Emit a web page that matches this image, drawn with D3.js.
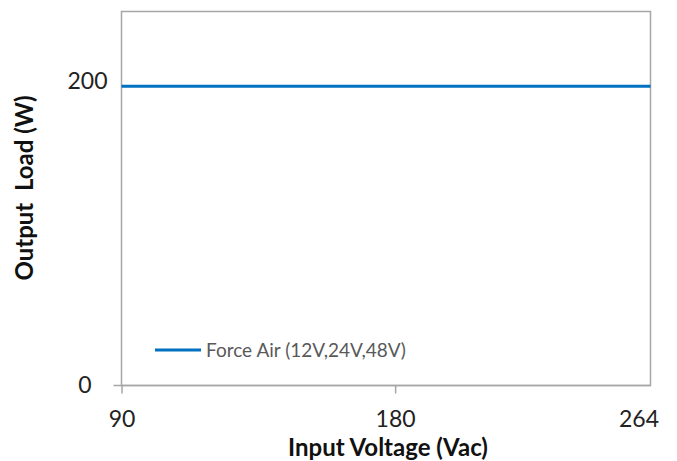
<!DOCTYPE html>
<html><head><meta charset="utf-8">
<script src="https://cdn.jsdelivr.net/npm/d3@7"></script>
<style>body{margin:0;background:#fff}svg{display:block}</style>
</head><body>
<svg id="c" width="677" height="461"></svg>
<script>
const xTicks = [90, 180, 264];
const yTicks = [0, 200];
const seriesX = [90, 264];
const seriesY = [200, 200];
const seriesName = "Force Air (12V,24V,48V)";
const xTitle = "Input Voltage (Vac)";
const yTitle = "Output  Load (W)";

const svg = d3.select("#c");
const L = 121.5, R = 650.5, T = 11.5, B = 385.5;
const x = d3.scaleLinear().domain([90, 264]).range([L, R]);
const y = d3.scaleLinear().domain([0, 250]).range([B, T]);
const font = "Lato, 'Open Sans', sans-serif";

// plot border
svg.append("rect").attr("x", L).attr("y", T).attr("width", R - L).attr("height", B - T)
  .attr("fill", "none").attr("stroke", "#a6a6a6").attr("stroke-width", 1.5);

// x axis
const gx = svg.append("g").attr("transform", `translate(0,${B})`)
  .call(d3.axisBottom(x).tickValues(xTicks).tickSize(8).tickFormat(d3.format("d")));
gx.select(".domain").attr("stroke", "#a6a6a6").attr("stroke-width", 1.5)
  .attr("d", `M${L - 8},0H${R}`);
gx.selectAll(".tick line").attr("stroke", "#a6a6a6").attr("stroke-width", 1.5);
gx.selectAll(".tick").filter(d => d === 264).select("line").remove();
gx.selectAll(".tick").filter(d => d === 264).select("text").attr("dx", -12);
gx.selectAll(".tick text").attr("font-family", font).attr("font-size", 23)
  .attr("fill", "#222").attr("dy", "0.35em").attr("y", 33);

// y axis
const gy = svg.append("g").attr("transform", `translate(${L},0)`)
  .call(d3.axisLeft(y).tickValues(yTicks).tickSize(0).tickPadding(14));
gy.select(".domain").remove();
gy.selectAll(".tick text").attr("font-family", font).attr("font-size", 23).attr("fill", "#222");
gy.selectAll(".tick").filter(d => d === 200).select("text").attr("y", -5);
gy.selectAll(".tick").filter(d => d === 0).select("text").attr("dx", -16);

// series line
svg.append("path").datum(seriesX.map((v, i) => [v, seriesY[i]]))
  .attr("d", d3.line().x(d => x(d[0])).y(d => y(d[1])))
  .attr("fill", "none").attr("stroke", "#0070c0").attr("stroke-width", 3);

// legend
const ly = 350;
svg.append("line").attr("x1", 155).attr("x2", 201).attr("y1", ly).attr("y2", ly)
  .attr("stroke", "#0070c0").attr("stroke-width", 3);
svg.append("text").attr("x", 206).attr("y", ly).attr("dy", "0.35em")
  .attr("font-family", font).attr("font-size", 19).attr("fill", "#595959").text(seriesName);

// titles
svg.append("text").attr("x", 388).attr("y", 456).attr("text-anchor", "middle")
  .attr("font-family", font).attr("font-weight", "bold").attr("font-size", 24).attr("fill", "#111").text(xTitle);
svg.append("text").attr("transform", "translate(33,188) rotate(-90)").attr("text-anchor", "middle")
  .attr("font-family", font).attr("font-weight", "bold").attr("font-size", 24).attr("fill", "#111")
  .attr("xml:space", "preserve").style("white-space", "pre").text(yTitle);
</script>
</body></html>
